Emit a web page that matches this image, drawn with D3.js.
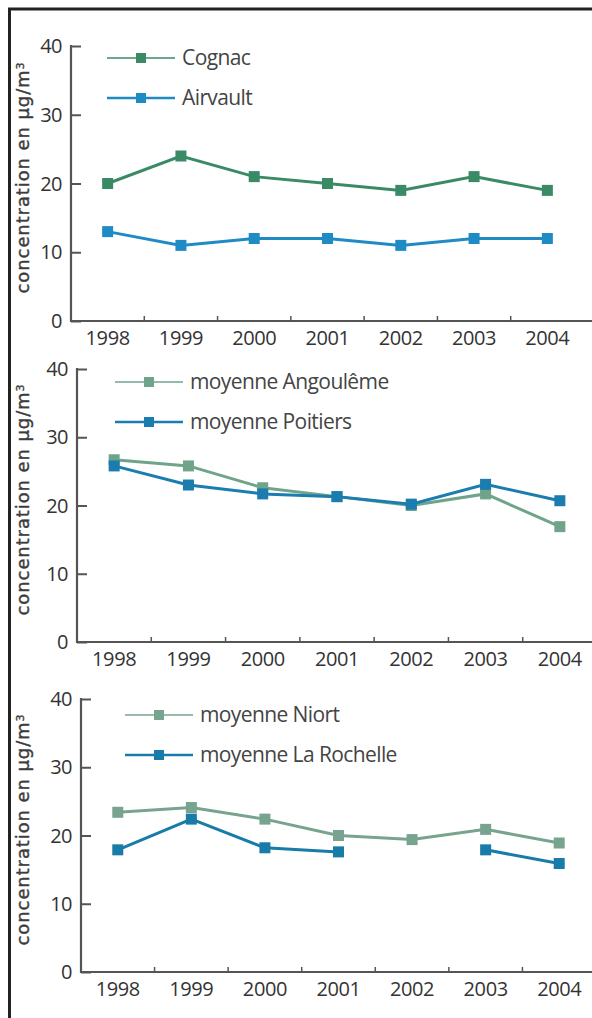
<!DOCTYPE html>
<html>
<head>
<meta charset="utf-8">
<script src="https://cdn.jsdelivr.net/npm/d3@7"></script>
<style>
  body { margin: 0; background: #fff; }
  svg { display: block; }
</style>
</head>
<body>
<script>
// years on the x axis, shared by all three panels
var years = ["1998", "1999", "2000", "2001", "2002", "2003", "2004"];
var yTicks = [0, 10, 20, 30, 40];

// values (µg/m3); null = no measure
var cognac = [20, 24, 21, 20, 19, 21, 19];
var airvault = [13, 11, 12, 12, 11, 12, 12];
var angouleme = [26.7, 25.8, 22.6, 21.3, 20.0, 21.7, 16.9];
var poitiers = [25.8, 23.0, 21.7, 21.3, 20.2, 23.1, 20.7];
var niort = [23.4, 24.1, 22.4, 20.0, 19.4, 20.9, 18.9];
var laRochelle = [17.9, 22.4, 18.2, 17.6, null, 17.9, 15.9];

var seriesNames = [
  ["Cognac", "Airvault"],
  ["moyenne Angoulême", "moyenne Poitiers"],
  ["moyenne Niort", "moyenne La Rochelle"]
];
var seriesValues = [
  [cognac, airvault],
  [angouleme, poitiers],
  [niort, laRochelle]
];

// colours and layout of each panel (not data)
var colors = [
  ["#3a8a66", "#1f8bc4"],
  ["#6fa48a", "#1a7caf"],
  ["#78a38e", "#187ba8"]
];
var frames = [
  {x0: 71, x1: 584, yTop: 46, yBot: 321, legX: 107, legY: 58},
  {x0: 77, x1: 597, yTop: 369, yBot: 642, legX: 115, legY: 382},
  {x0: 81, x1: 596, yTop: 699, yBot: 972, legX: 125, legY: 715}
];

var W = 592, H = 1018;
var svg = d3.select("body").append("svg")
  .attr("width", W)
  .attr("height", H);

// outer frame, runs off the right and bottom edge
svg.append("rect")
  .attr("x", 9.5).attr("y", 9)
  .attr("width", W + 20).attr("height", H + 20)
  .attr("fill", "none")
  .attr("stroke", "#222")
  .attr("stroke-width", 3);

var axisColor = "#555";
var textColor = "#333";
var font = "'Open Sans', sans-serif";

frames.forEach(function(f, p) {
  var g = svg.append("g");

  var x = d3.scaleBand().domain(years).range([f.x0, f.x1]).padding(0);
  var y = d3.scaleLinear().domain([0, 40]).range([f.yBot, f.yTop]);

  // y axis: ticks pointing inwards
  var yAxis = g.append("g")
    .attr("transform", "translate(" + f.x0 + ",0)")
    .call(d3.axisRight(y).tickValues(yTicks).tickSize(10).tickFormat(""));
  yAxis.select(".domain").remove();
  yAxis.selectAll(".tick line").attr("stroke", axisColor).attr("stroke-width", 2);
  g.append("line")
    .attr("x1", f.x0).attr("x2", f.x0)
    .attr("y1", f.yTop - 1).attr("y2", f.yBot + 1)
    .attr("stroke", axisColor).attr("stroke-width", 2.2);

  g.selectAll("text.ylab")
    .data(yTicks)
    .enter().append("text")
    .attr("class", "ylab")
    .attr("x", f.x0 - 9)
    .attr("y", function(d) { return y(d); })
    .attr("dy", "0.35em")
    .attr("text-anchor", "end")
    .attr("font-family", font)
    .attr("font-size", 20)
    .attr("letter-spacing", -0.5)
    .attr("fill", textColor)
    .text(function(d) { return d; });

  // x axis line and small ticks between the years
  g.append("line")
    .attr("x1", f.x0).attr("x2", W)
    .attr("y1", f.yBot).attr("y2", f.yBot)
    .attr("stroke", axisColor).attr("stroke-width", 2.2);
  g.selectAll("line.xtick")
    .data(years.slice(1))
    .enter().append("line")
    .attr("class", "xtick")
    .attr("x1", function(d) { return x(d); })
    .attr("x2", function(d) { return x(d); })
    .attr("y1", f.yBot).attr("y2", f.yBot - 5)
    .attr("stroke", axisColor).attr("stroke-width", 1.5);

  g.selectAll("text.xlab")
    .data(years)
    .enter().append("text")
    .attr("class", "xlab")
    .attr("x", function(d) { return x(d) + x.bandwidth() / 2; })
    .attr("y", f.yBot + 17)
    .attr("dy", "0.35em")
    .attr("text-anchor", "middle")
    .attr("font-family", font)
    .attr("font-size", 20)
    .attr("letter-spacing", -0.4)
    .attr("fill", textColor)
    .text(function(d) { return d; });

  // y axis title
  var cy = (f.yTop + f.yBot) / 2 - 6;
  var title = g.append("text")
    .attr("transform", "translate(23," + cy + ") rotate(-90)")
    .attr("dy", "0.35em")
    .attr("text-anchor", "middle")
    .attr("font-family", "'DejaVu Sans', sans-serif")
    .attr("font-size", 18)
    .attr("letter-spacing", 0.9)
    .attr("fill", "#3c3c3c")
    .attr("stroke", "#3c3c3c")
    .attr("stroke-width", 0.4)
    .text("concentration en µg/m");
  title.append("tspan")
    .attr("dy", "-0.45em")
    .attr("font-size", 11)
    .text("3");

  // series
  var line = d3.line()
    .defined(function(d) { return d != null; })
    .x(function(d, i) { return x(years[i]) + x.bandwidth() / 2; })
    .y(function(d) { return y(d); });

  seriesValues[p].forEach(function(vals, s) {
    var c = colors[p][s];
    g.append("path")
      .datum(vals)
      .attr("d", line)
      .attr("fill", "none")
      .attr("stroke", c)
      .attr("stroke-width", 3);
    g.selectAll("rect.m" + s)
      .data(vals.map(function(v, i) { return {v: v, i: i}; })
        .filter(function(d) { return d.v != null; }))
      .enter().append("rect")
      .attr("class", "m" + s)
      .attr("x", function(d) { return x(years[d.i]) + x.bandwidth() / 2 - 5.5; })
      .attr("y", function(d) { return y(d.v) - 5.5; })
      .attr("width", 11).attr("height", 11)
      .attr("fill", c);

    // legend entry
    var ly = f.legY + s * 40;
    g.append("line")
      .attr("x1", f.legX).attr("x2", f.legX + 68)
      .attr("y1", ly).attr("y2", ly)
      .attr("stroke", c)
      .attr("stroke-width", s === 0 ? 1.5 : 2.5);
    g.append("rect")
      .attr("x", f.legX + 34 - 5).attr("y", ly - 5)
      .attr("width", 10).attr("height", 10)
      .attr("fill", c);
    g.append("text")
      .attr("x", f.legX + 75)
      .attr("y", ly)
      .attr("dy", "0.35em")
      .attr("font-family", font)
      .attr("font-size", 21)
      .attr("letter-spacing", -0.6)
      .attr("fill", "#444")
      .text(seriesNames[p][s]);
  });
});
</script>
</body>
</html>
